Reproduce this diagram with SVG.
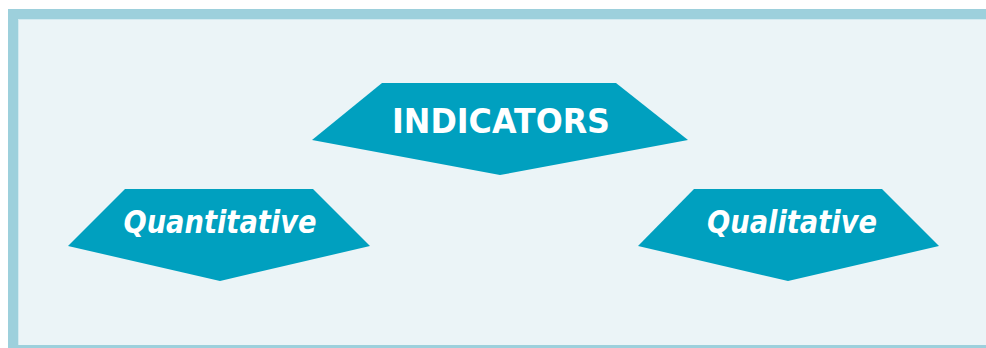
<svg xmlns="http://www.w3.org/2000/svg" width="986" height="348" viewBox="0 0 986 348">
  <style>
    .shape { fill: #00a0bf; }
    .label { fill: #ffffff; font-family: "Comic Sans MS", "DejaVu Sans", sans-serif; font-weight: bold; text-anchor: middle; }
    .title { font-size: 33px; }
    .sub { font-size: 32px; font-style: italic; }
  </style>
  <!-- panel background with framed border -->
  <rect x="0" y="0" width="986" height="348" fill="#ffffff"/>
  <rect x="8" y="9" width="978" height="339" fill="#9dd0dc"/>
  <rect x="18" y="19" width="968" height="326" fill="#d3eaf0"/>
  <rect x="19" y="20" width="967" height="325" fill="#ebf4f7"/>

  <g id="connectors"></g>

  <g id="indicators">
    <polygon class="shape" points="382,83 616,83 688,140 500,175 312,140"/>
    <text class="label title" x="501" y="133" textLength="218" lengthAdjust="spacingAndGlyphs">INDICATORS</text>
  </g>

  <g id="quantitative">
    <polygon class="shape" points="125,189 313,189 370,246 220,281 68,246"/>
    <text class="label sub" x="220" y="233" textLength="193" lengthAdjust="spacingAndGlyphs">Quantitative</text>
  </g>

  <g id="qualitative">
    <polygon class="shape" points="694,189 882,189 939,246 788,281 638,246"/>
    <text class="label sub" x="792" y="233" textLength="170" lengthAdjust="spacingAndGlyphs">Qualitative</text>
  </g>
</svg>
